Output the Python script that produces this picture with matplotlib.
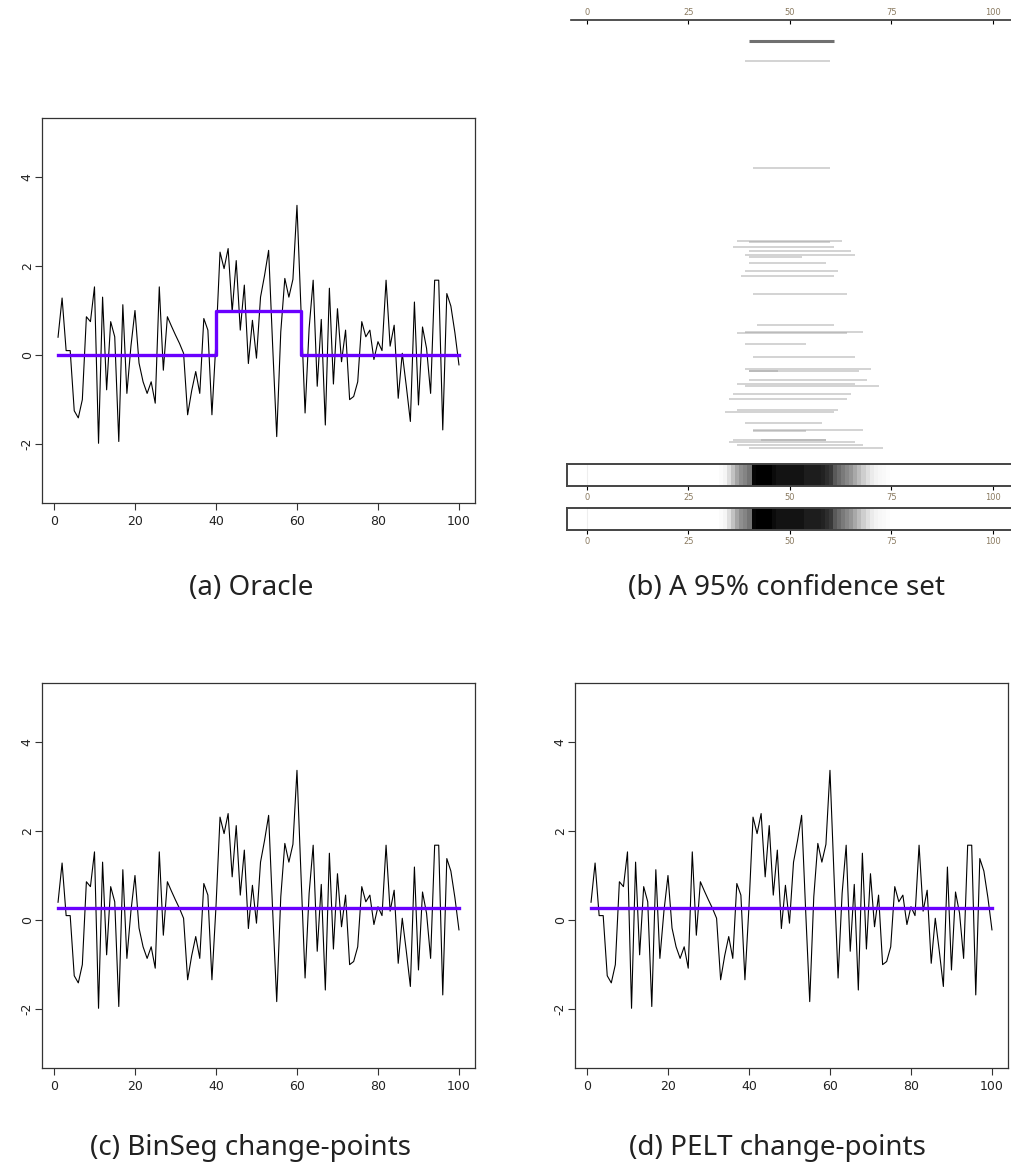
import numpy as np
import matplotlib
matplotlib.use("Agg")
import matplotlib.pyplot as plt

plt.rcParams["axes.unicode_minus"] = False

series = [0.40, 1.28, 0.10, 0.10, -1.25, -1.41, -1.00, 0.86, 0.75, 1.53,
          -1.98, 1.30, -0.78, 0.75, 0.41, -1.94, 1.13, -0.86, 0.20, 1.00,
          -0.18, -0.60, -0.86, -0.60, -1.08, 1.53, -0.34, 0.86, 0.65, 0.45,
          0.26, 0.04, -1.34, -0.80, -0.37, -0.86, 0.82, 0.56, -1.34, 0.30,
          2.31, 1.94, 2.39, 0.97, 2.12, 0.56, 1.57, -0.19, 0.78, -0.07,
          1.30, 1.79, 2.35, 0.20, -1.83, 0.52, 1.72, 1.30, 1.70, 3.36,
          1.00, -1.30, 0.60, 1.68, -0.70, 0.80, -1.57, 1.50, -0.65, 1.04,
          -0.15, 0.56, -1.00, -0.93, -0.60, 0.75, 0.41, 0.56, -0.10, 0.30,
          0.10, 1.68, 0.20, 0.67, -0.97, 0.04, -0.70, -1.49, 1.19, -1.12,
          0.63, 0.15, -0.86, 1.68, 1.68, -1.68, 1.38, 1.10, 0.50, -0.22]
t = np.arange(1, len(series) + 1)

# oracle mean: change points at 40 and 61
oracle_x = [1, 40, 61, 100]
oracle_y = [0, 1, 0, 0]
# fitted mean for BinSeg / PELT (no change-point found)
binseg_level = 0.27
pelt_level = 0.27

# confidence set: (start, end, row score); first one is the highlighted estimate
seg_start = [40, 39, 41, 37, 40, 36, 40, 39, 40, 40, 39, 38, 41, 42, 39, 37, 39, 41,
             39, 40, 40, 40, 37, 39, 36, 35, 37, 34, 39, 41, 41, 36, 43, 35, 37, 40]
seg_end = [61, 60, 60, 63, 60, 61, 65, 66, 53, 59, 62, 61, 64, 61, 68, 64, 54, 66,
           70, 67, 47, 69, 66, 72, 65, 64, 62, 61, 58, 68, 54, 59, 59, 66, 68, 73]
seg_row = [4.9, 9.4, 33.9, 50.7, 50.9, 52.1, 53.0, 53.9, 54.4, 55.7, 57.6, 58.8,
           62.8, 70.0, 71.6, 71.9, 74.4, 77.4, 80.1, 80.5, 80.6, 82.6, 83.5, 83.9,
           85.8, 87.0, 89.4, 89.9, 92.4, 94.0, 94.2, 96.3, 96.4, 96.7, 97.5, 98.2]

# frequency of locations in the set (darkness 0..1), locations 33..74
freq_pos = np.arange(33, 75)
freq_val = [0.03, 0.08, 0.22, 0.35, 0.45, 0.52, 0.56, 0.62, 0.98, 1.00,
            1.00, 1.00, 1.00, 0.96, 0.93, 0.93, 0.93, 0.93, 0.93, 0.93,
            0.93, 0.90, 0.90, 0.90, 0.90, 0.88, 0.85, 0.82, 0.72, 0.66,
            0.60, 0.55, 0.50, 0.44, 0.38, 0.30, 0.22, 0.15, 0.10, 0.07,
            0.05, 0.02]

W, H = 1011, 1173
fig = plt.figure(figsize=(W / 100, H / 100), dpi=100)
purple = "#6a00ff"
title_font = dict(family=["Noto Sans", "DejaVu Sans"], fontsize=20, color="#222222")


def add_ax(left, top, right, bottom):
    return fig.add_axes([left / W, 1 - bottom / H, (right - left) / W, (bottom - top) / H])


def series_panel(left, top, right, bottom, fit_x, fit_y):
    ax = add_ax(left, top, right, bottom)
    ax.plot(t, series, color="black", lw=0.8)
    ax.step(fit_x, fit_y, where="post", color=purple, lw=2.4)
    ax.set_xlim(1 - 0.04 * 99, 100 + 0.04 * 99)
    ax.set_ylim(-3 - 0.32, 5 + 0.32)
    ax.set_xticks([0, 20, 40, 60, 80, 100])
    ax.set_yticks([-2, 0, 2, 4])
    ax.tick_params(labelsize=9, length=5, width=0.8, color="#333333", labelcolor="#222222")
    ax.tick_params(axis="y", pad=1)
    for lab in ax.get_yticklabels():
        lab.set_rotation(90)
        lab.set_va("center")
    for s in ax.spines.values():
        s.set_linewidth(0.9)
        s.set_color("#333333")
    return ax


series_panel(42, 118, 475, 503, oracle_x, oracle_y)
series_panel(42, 683, 475, 1068, [1, 100], [binseg_level, binseg_level])
series_panel(575, 683, 1008, 1068, [1, 100], [pelt_level, pelt_level])

# panel (b): confidence set segments
axb = add_ax(571, 20, 1012, 456)
u0 = -3.87
axb.set_xlim(u0, u0 + 441 / 4.06)
axb.set_ylim(100, 0)
for i, (a, b, r) in enumerate(zip(seg_start, seg_end, seg_row)):
    if i == 0:
        axb.plot([a, b], [r, r], color="#707070", lw=2.2, solid_capstyle="butt")
    else:
        axb.plot([a, b], [r, r], color="#9a9a9a", lw=1.2, alpha=0.5, solid_capstyle="butt")
for s in ["left", "right", "bottom"]:
    axb.spines[s].set_visible(False)
axb.spines["top"].set_linewidth(1.2)
axb.spines["top"].set_color("#333333")
axb.set_yticks([])
axb.xaxis.tick_top()
axb.set_xticks([0, 25, 50, 75, 100])
axb.tick_params(axis="x", direction="in", length=3, labelsize=6, pad=2, labelcolor="#8a7a60")

# frequency strips
strip_w = 4.06
for top, bottom in [(464, 486), (508, 530)]:
    axs = add_ax(567, top, 567 + 110 * strip_w, bottom)
    axs.set_xlim(-4.85, 105.15)
    axs.set_ylim(0, 1)
    axs.imshow([freq_val], cmap="Greys", vmin=0, vmax=1, aspect="auto",
               extent=[freq_pos[0] - 0.5, freq_pos[-1] + 0.5, 0, 1], interpolation="nearest")
    axs.axvline(0, color="#eeeeee", lw=0.8)
    axs.set_yticks([])
    axs.set_xticks([0, 25, 50, 75, 100])
    axs.tick_params(axis="x", length=3, labelsize=6, pad=2, labelcolor="#8a7a60")
    for s in axs.spines.values():
        s.set_linewidth(1.4)
        s.set_color("#444444")

fig.text(251 / W, 1 - 588 / H, "(a) Oracle", ha="center", va="center", **title_font)
fig.text(786 / W, 1 - 588 / H, "(b) A 95% confidence set", ha="center", va="center", **title_font)
fig.text(250 / W, 1 - 1148 / H, "(c) BinSeg change-points", ha="center", va="center", **title_font)
fig.text(777 / W, 1 - 1148 / H, "(d) PELT change-points", ha="center", va="center", **title_font)

fig.savefig("out.png", dpi=100)
